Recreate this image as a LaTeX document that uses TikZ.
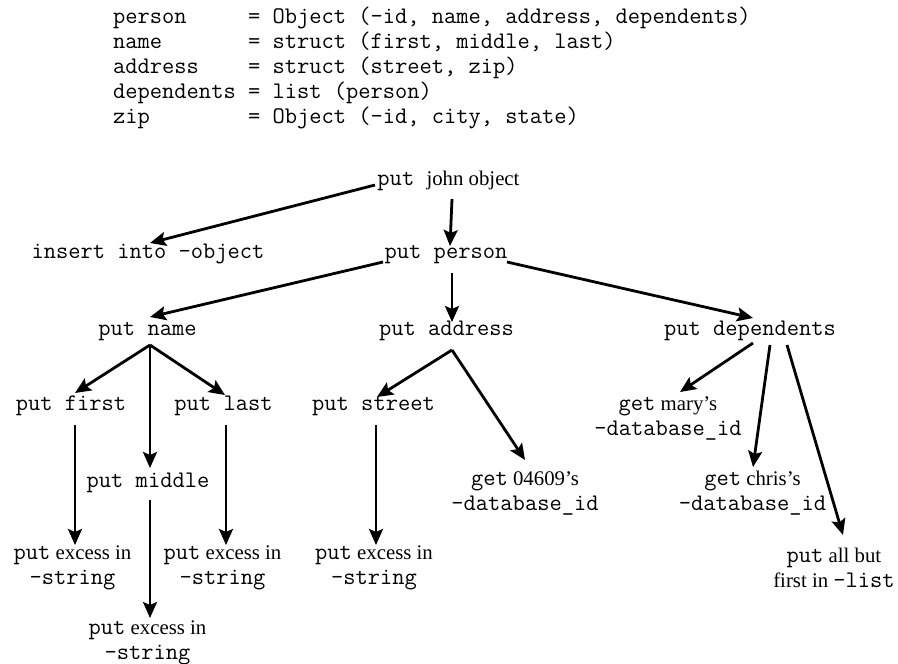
\documentclass[tikz,border=0pt]{standalone}
\usepackage{fontspec}
\setmainfont{Liberation Serif}
\usetikzlibrary{arrows.meta}
\newcommand\fsz{\fontsize{20.8}{25}\selectfont}
\newcommand\ttsz{\fontsize{23.8}{25}\selectfont\ttfamily}
\newcommand\mt[1]{{\ttsz #1}}
\begin{document}
\begin{tikzpicture}[x=1pt,y=-1pt,
  code/.style={inner sep=0pt,font=\ttsz,anchor=base west},
  lbl/.style={inner sep=0pt,font=\fsz,text height=15pt,text depth=4pt},
  lbl2/.style={inner sep=0pt,font=\fsz,align=center},
  arr/.style={line width=2.8pt,-{Stealth[length=16pt,width=14pt,inset=3pt]}}]
\useasboundingbox (0,0) rectangle (898,664);
% type definitions
\node[code] (c1) at (113,23.5) {person~~~~~= Object (-id, name, address, dependents)};
\node[code] (c2) at (113,48.5) {name~~~~~~~= struct (first, middle, last)};
\node[code] (c3) at (113,73.5) {address~~~~= struct (street, zip)};
\node[code] (c4) at (113,98.5) {dependents = list (person)};
\node[code] (c5) at (113,123.5) {zip~~~~~~~~= Object (-id, city, state)};
% tree
\node[lbl] (john) at (448.5,180) {\mt{put~}john object};
\node[lbl] (insert) at (148,253) {\mt{insert into -object}};
\node[lbl] (person) at (446,253) {\mt{put person}};
\node[lbl] (name) at (147.5,330) {\mt{put name}};
\node[lbl] (address) at (446.5,330) {\mt{put address}};
\node[lbl] (deps) at (750,330) {\mt{put dependents}};
\node[lbl] (first) at (71,405) {\mt{put first}};
\node[lbl] (last) at (223.5,405) {\mt{put last}};
\node[lbl] (street) at (373.5,405) {\mt{put street}};
\node[lbl] (middle) at (148,482) {\mt{put middle}};
\node[lbl2] (mary) at (668,418.5) {\mt{get} mary's\\\mt{-database\_id}};
\node[lbl2] (zipid) at (525,493.5) {\mt{get} 04609's\\\mt{-database\_id}};
\node[lbl2] (chris) at (752.5,493.5) {\mt{get} chris's\\\mt{-database\_id}};
\node[lbl2] (exf) at (72.5,567.5) {\mt{put} excess in\\\mt{-string}};
\node[lbl2] (exl) at (222.5,567.5) {\mt{put} excess in\\\mt{-string}};
\node[lbl2] (exs) at (374,567.5) {\mt{put} excess in\\\mt{-string}};
\node[lbl2] (exm) at (147.5,642.5) {\mt{put} excess in\\\mt{-string}};
\node[lbl2] (allbut) at (834,567.5) {\mt{put} all but\\first in \mt{-list}};
% connectors
\draw[arr] ([shift={(-73.5,5)}]john.center) -- ([shift={(2,-10)}]insert.center);
\draw[arr] ([shift={(3.5,19)}]john.center) -- ([shift={(4,-7)}]person.center);
\draw[arr] ([shift={(-63,9)}]person.center) -- ([shift={(2.5,-13)}]name.center);
\draw[arr] ([shift={(6,20)}]person.center) -- ([shift={(5.5,-8)}]address.center);
\draw[arr] ([shift={(61,9)}]person.center) -- ([shift={(3,-12)}]deps.center);
\draw[arr] ([shift={(2.5,15)}]name.center) -- ([shift={(4,-12)}]first.center);
\draw[arr] ([shift={(2.5,15)}]name.center) -- ([shift={(2,-14)}]middle.center);
\draw[arr] ([shift={(2.5,15)}]name.center) -- ([shift={(1.5,-10)}]last.center);
\draw[arr] ([shift={(5.5,20)}]address.center) -- ([shift={(3.5,-8)}]street.center);
\draw[arr] ([shift={(5.5,20)}]address.center) -- ([shift={(0,-33.5)}]zipid.center);
\draw[arr] ([shift={(3,13)}]deps.center) -- ([shift={(12,-26.5)}]mary.center);
\draw[arr] ([shift={(20,15)}]deps.center) -- ([shift={(0.5,-26.5)}]chris.center);
\draw[arr] ([shift={(37,15)}]deps.center) -- ([shift={(9,-32.5)}]allbut.center);
\draw[arr] ([shift={(4,20)}]first.center) -- ([shift={(2.5,-22.5)}]exf.center);
\draw[arr] ([shift={(2,18)}]middle.center) -- ([shift={(2.5,-24.5)}]exm.center);
\draw[arr] ([shift={(2.5,20)}]last.center) -- ([shift={(3.5,-22.5)}]exl.center);
\draw[arr] ([shift={(2.5,20)}]street.center) -- ([shift={(2,-22.5)}]exs.center);
\end{tikzpicture}
\end{document}
